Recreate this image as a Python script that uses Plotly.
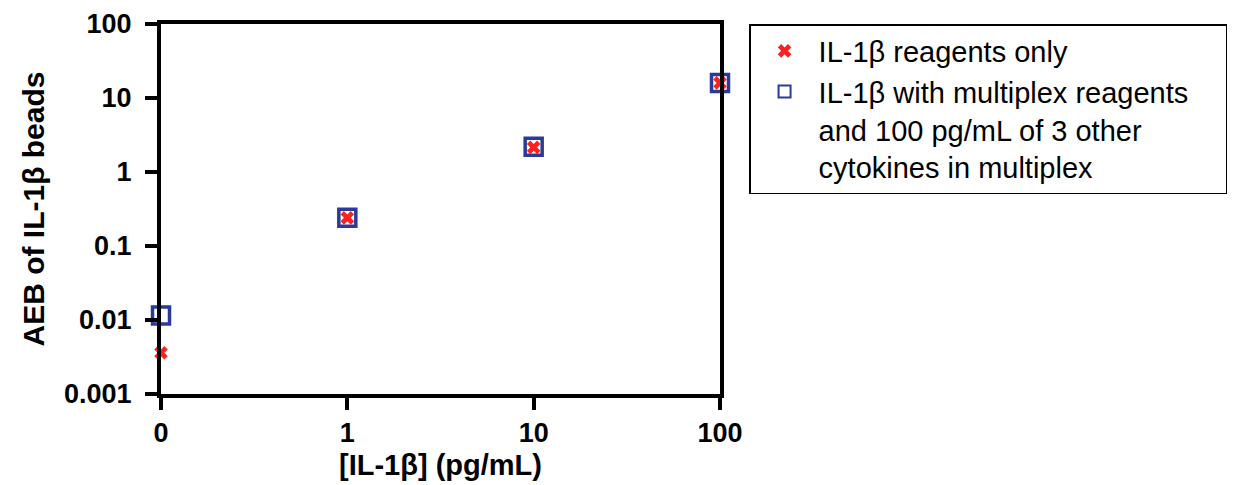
import plotly.graph_objects as go

# Data
conc_labels = ["0", "1", "10", "100"]
conc_values = [0, 1, 10, 100]
reagents_only = [0.0036, 0.24, 2.15, 16.0]
multiplex = [0.0115, 0.24, 2.2, 16.0]
y_tick_vals = [0.001, 0.01, 0.1, 1, 10, 100]
y_tick_text = ["0.001", "0.01", "0.1", "1", "10", "100"]

# zero concentration is placed one decade below 1 on the log axis
x_plot = [v if v > 0 else 0.1 for v in conc_values]
x_tickvals = x_plot

RED = "#FF2020"
BLUE = "#2B3A98"
FAM = "Liberation Sans, Arial, sans-serif"
PAD = "\u00a0" * 4

fig = go.Figure()
fig.add_trace(go.Scatter(
    x=x_plot, y=multiplex, mode="markers",
    name="IL-1β with multiplex reagents" + PAD + "<br>and 100 pg/mL of 3 other<br>cytokines in multiplex",
    marker=dict(symbol="square-open", size=17, color=BLUE, line=dict(width=3.5, color=BLUE)),
    legendrank=2, cliponaxis=False,
))
fig.add_trace(go.Scatter(
    x=x_plot, y=reagents_only, mode="markers",
    name="IL-1β reagents only",
    marker=dict(symbol="x", size=12, color=RED, line=dict(width=0)),
    legendrank=1, cliponaxis=False,
))

fig.update_layout(
    width=1233, height=485,
    margin=dict(l=161, r=513, t=24, b=91, autoexpand=False),
    paper_bgcolor="white", plot_bgcolor="white",
    font=dict(family=FAM, color="black"),
    showlegend=True,
    legend=dict(
        x=1.052, y=1.0, xanchor="left", yanchor="top",
        bordercolor="black", borderwidth=1.5,
        font=dict(family=FAM, size=29, color="black"),
        tracegroupgap=0, itemsizing="constant", valign="top",
        itemwidth=58,
    ),
    xaxis=dict(
        type="log", range=[-1, 2], automargin=False,
        tickvals=x_tickvals, ticktext=conc_labels,
        ticks="outside", ticklen=12, tickwidth=4, tickcolor="black",
        showline=True, linewidth=4, linecolor="black", mirror=True,
        showgrid=False, zeroline=False,
        tickfont=dict(family=FAM, size=27, color="black", weight="bold"),
        title=dict(text="<b>[IL-1β] (pg/mL)</b>", font=dict(family=FAM, size=29, color="black"), standoff=8),
    ),
    yaxis=dict(
        type="log", range=[-3, 2], automargin=False,
        tickvals=y_tick_vals, ticktext=y_tick_text,
        ticks="outside", ticklen=12, tickwidth=4, tickcolor="black",
        showline=True, linewidth=4, linecolor="black", mirror=True,
        showgrid=False, zeroline=False,
        tickfont=dict(family=FAM, size=27, color="black", weight="bold"),
        ticklabelstandoff=8,
        title=dict(text="<b>AEB of IL-1β beads</b>", font=dict(family=FAM, size=30, color="black"), standoff=12),
    ),
)
fig.write_html("out.html")
